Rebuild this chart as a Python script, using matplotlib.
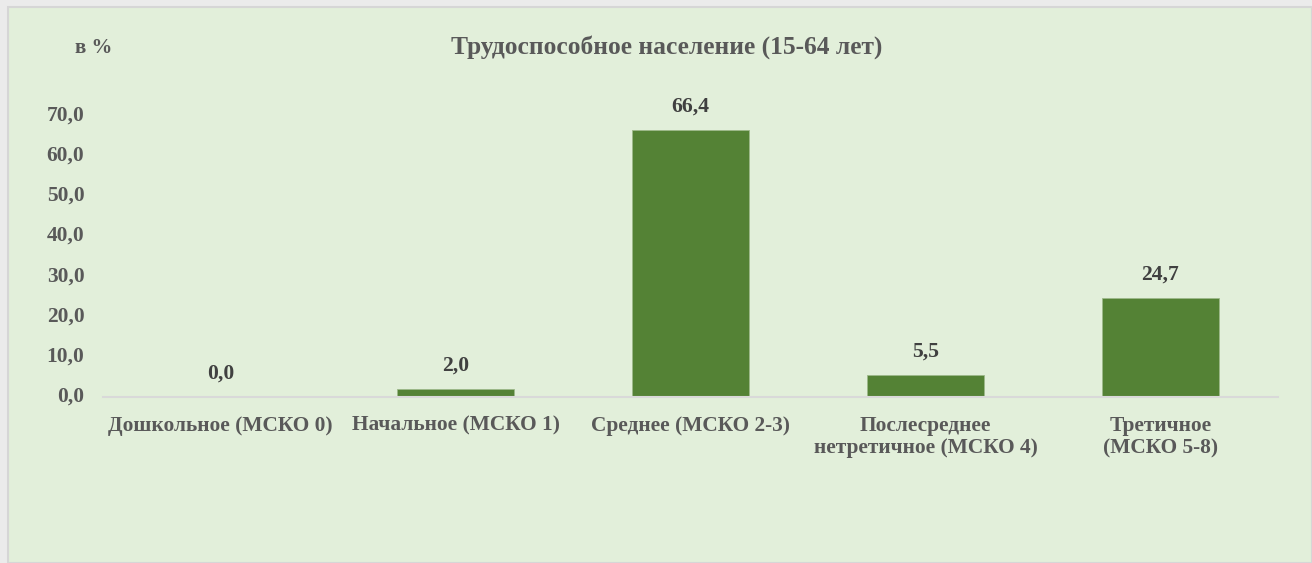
import matplotlib
matplotlib.use("Agg")
import matplotlib.pyplot as plt
from matplotlib.patches import Rectangle

categories = ["Дошкольное (МСКО 0)", "Начальное (МСКО 1)", "Среднее (МСКО 2-3)",
              "Послесреднее\nнетретичное (МСКО 4)", "Третичное\n(МСКО 5-8)"]
values = [0.0, 2.0, 66.4, 5.5, 24.7]
yticks = [0, 10, 20, 30, 40, 50, 60, 70]
title = "Трудоспособное население (15-64 лет)"
unit = "в %"

plt.rcParams['font.family'] = ['Liberation Serif', 'DejaVu Serif']
plt.rcParams['font.weight'] = 'bold'

W, H = 1312, 563
fig = plt.figure(figsize=(W/100, H/100), dpi=100)
fig.patch.set_facecolor('#EBEBEB')
fig.patches.append(Rectangle((8/W, 0), 1 - 8/W, 1 - 7/H, transform=fig.transFigure,
                             facecolor='#E2EFDA', edgecolor='#D6D6D6', linewidth=1.5, zorder=-10))

ax = fig.add_axes([103/W, 1 - 397/H, 1175/W, (397 - 75)/H])
ax.set_facecolor('none')
x = list(range(len(categories)))
bars = ax.bar(x, values, width=0.495, color='#548235', edgecolor='#9DB98A', linewidth=0.6, zorder=2)
ax.set_xlim(-0.5, len(categories) - 0.5)
ax.set_ylim(0, 80)
ax.set_yticks(yticks)
ax.set_yticklabels([f"{v:.1f}".replace('.', ',') for v in yticks])
ax.set_xticks(x)
ax.set_xticklabels(categories)
for s in ['top', 'right', 'left']:
    ax.spines[s].set_visible(False)
ax.spines['bottom'].set_color('#D9D9D9')
ax.spines['bottom'].set_linewidth(1.5)
ax.spines['bottom'].set_zorder(3)
ax.tick_params(axis='both', length=0, colors='#595959', labelsize=15.4)
ax.tick_params(axis='y', pad=13.5)
ax.tick_params(axis='x', pad=13.5)
for lbl in ax.get_xticklabels() + ax.get_yticklabels():
    lbl.set_fontweight('bold')
    lbl.set_color('#595959')
    lbl.set_linespacing(1.15)
for lbl in ax.get_yticklabels():
    lbl.set_verticalalignment('center')
for xi, v in zip(x, values):
    ax.annotate(f"{v:.1f}".replace('.', ','), (xi, v), xytext=(0, 16.5), textcoords='offset points',
                ha='center', va='center', fontsize=15.6, fontweight='bold', color='#404040')

fig.text(667/W, 1 - 47/H, title, ha='center', va='center', fontsize=18.4, fontweight='bold', color='#595959')
fig.text(94/W, 1 - 48/H, unit, ha='center', va='center', fontsize=15, fontweight='bold', color='#595959')

fig.savefig('out.png', dpi=100, facecolor=fig.get_facecolor())
